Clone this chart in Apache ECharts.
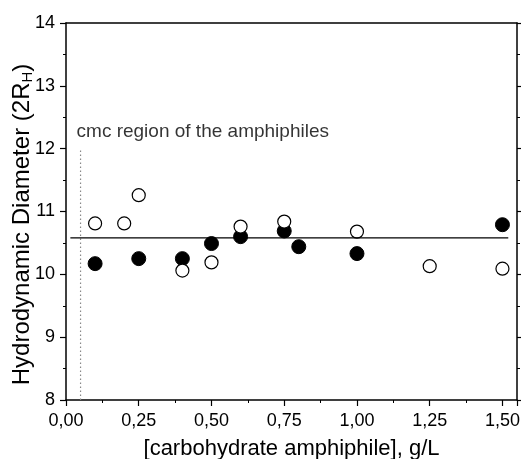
<!DOCTYPE html>
<html><head><meta charset="utf-8">
<script src="https://cdn.jsdelivr.net/npm/echarts@6/dist/echarts.min.js"></script>
<style>html,body{margin:0;padding:0;background:#fff}#c{width:521px;height:459px}</style>
</head><body><div id="c"></div>
<script>
const filledX = [0.10, 0.25, 0.40, 0.50, 0.60, 0.75, 0.80, 1.00, 1.50];
const filledY = [10.17, 10.25, 10.25, 10.49, 10.60, 10.69, 10.44, 10.33, 10.79];
const openX = [0.10, 0.20, 0.25, 0.40, 0.50, 0.60, 0.75, 1.00, 1.25, 1.50];
const openY = [10.81, 10.81, 11.26, 10.06, 10.19, 10.76, 10.84, 10.68, 10.13, 10.09];
const meanLineX = [0.015, 1.52];
const meanLineY = [10.58, 10.58];
const cmcX = [0.05, 0.05];
const cmcY = [8, 12];
const cmcText = 'cmc region of the amphiphiles';
const xTicks = [0, 0.25, 0.5, 0.75, 1.0, 1.25, 1.5];

const FONT = 'Liberation Sans, Arial, sans-serif';
const chart = echarts.init(document.getElementById('c'), null, {renderer: 'canvas'});
const zip = (a, b) => a.map((v, i) => [v, b[i]]);
const fmtX = v => {
  const s = v.toFixed(2).replace('.', ',');
  return xTicks.some(t => Math.abs(t - v) < 1e-6) ? s : '';
};
const axisLine = {onZero: false, lineStyle: {color: '#000', width: 1.5}};
const tick = {show: true, inside: false, length: 6, lineStyle: {color: '#000', width: 1.2}};
const minor = {show: true, splitNumber: 2, length: 3, lineStyle: {color: '#000', width: 1}};
chart.setOption({
  animation: false,
  grid: {left: 66, right: 4, top: 23, bottom: 59, containLabel: false, outerBoundsMode: 'none'},
  xAxis: [{
    type: 'value', min: 0, max: 1.55, interval: 0.25, position: 'bottom',
    axisLine, axisTick: tick, minorTick: minor, splitLine: {show: false},
    axisLabel: {color: '#000', fontSize: 18, fontFamily: FONT, margin: 12, formatter: fmtX, showMaxLabel: false},
    name: '[carbohydrate amphiphile], g/L', nameLocation: 'middle', nameGap: 38, nameMoveOverlap: false,
    nameTextStyle: {color: '#000', fontSize: 22, fontFamily: FONT}
  }, {
    type: 'value', min: 0, max: 1.55, position: 'top',
    axisLine, axisTick: {show: false}, axisLabel: {show: false}, splitLine: {show: false}
  }],
  yAxis: [{
    type: 'value', min: 8, max: 14, interval: 1, position: 'left',
    axisLine, axisTick: tick, minorTick: minor, splitLine: {show: false},
    axisLabel: {color: '#000', fontSize: 18, fontFamily: FONT, margin: 11},
    name: 'Hydrodynamic Diameter (2R{sub|H})', nameLocation: 'middle', nameGap: 31, nameRotate: 90,
    nameMoveOverlap: false,
    nameTextStyle: {color: '#000', fontSize: 24, fontFamily: FONT, padding: [0, 26, 0, 0],
      rich: {sub: {fontSize: 15, fontFamily: FONT, color: '#000', verticalAlign: 'bottom', padding: [11, 0, 0, 0]}}}
  }, {
    type: 'value', min: 8, max: 14, interval: 1, position: 'right',
    axisLine, axisTick: tick, minorTick: minor,
    axisLabel: {show: false}, splitLine: {show: false}
  }],
  series: [{
    type: 'line', data: zip(cmcX, cmcY), symbol: 'none', silent: true,
    lineStyle: {color: '#888', width: 1.2, type: [1.5, 2.5]}
  }, {
    type: 'scatter', data: [[cmcX[1], cmcY[1]]], symbolSize: 0, silent: true,
    label: {show: true, position: 'insideBottomLeft', formatter: cmcText, color: '#000', fontSize: 19, fontFamily: FONT, offset: [-9, -2]}
  }, {
    type: 'line', data: zip(meanLineX, meanLineY), symbol: 'none', silent: true,
    lineStyle: {color: '#000', width: 1.3}
  }, {
    type: 'scatter', data: zip(filledX, filledY), symbol: 'circle', symbolSize: 14,
    itemStyle: {color: '#000', borderColor: '#000', borderWidth: 1, opacity: 1}
  }, {
    type: 'scatter', data: zip(openX, openY), symbol: 'circle', symbolSize: 13,
    itemStyle: {color: '#fff', borderColor: '#000', borderWidth: 1.2, opacity: 1}
  }]
});
</script></body></html>
